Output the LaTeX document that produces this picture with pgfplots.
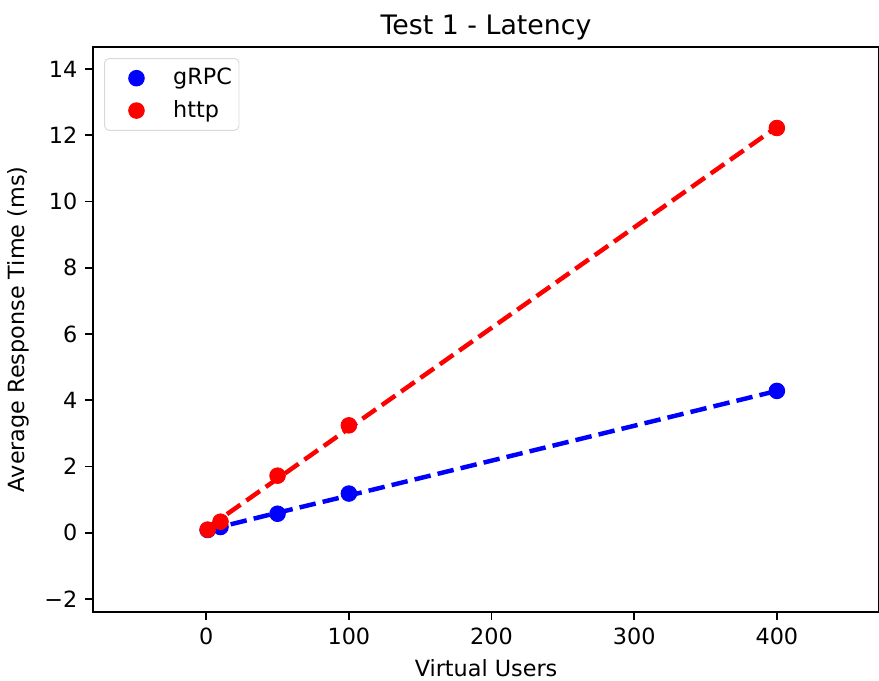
\documentclass[border=0pt]{standalone}
\usepackage{pgfplots}
\pgfplotsset{compat=1.18}
\usetikzlibrary{calc}
\usepackage{fontspec}
\setmainfont{DejaVu Sans}
\pgfplotsset{
    dotlegend/.style={legend image code/.code={%
        \path[draw=none] (0,0) -- (14.7pt,0);
        \draw[##1] plot coordinates {(8.3pt,0)};}},
}
\begin{document}
\begin{tikzpicture}
\begin{axis}[
    name=ax,
    scale only axis,
    width=352pt, height=253pt,
    xmin=-79.3, xmax=471.6,
    ymin=-2.39, ymax=14.67,
    xtick={0,100,200,300,400},
    ytick={-2,0,2,4,6,8,10,12,14},
    yticklabels={−2,0,2,4,6,8,10,12,14},
    tick align=outside,
    tick pos=left,
    major tick length=3.5pt,
    axis line style={line width=0.8pt},
    every tick/.style={line width=0.8pt, black},
    tick label style={font=\fontsize{10}{12}\selectfont},
    /pgf/number format/assume math mode=true,
    title={Test 1 - Latency},
    title style={font=\fontsize{12}{14}\selectfont, yshift=-6.5pt},
    xlabel={Virtual Users},
    ylabel={Average Response Time (ms)},
    label style={font=\fontsize{10}{12}\selectfont},
    legend style={at={(0.014,0.98)}, anchor=north west, draw=black!15,
        rounded corners=2pt, font=\fontsize{10}{12}\selectfont,
        inner xsep=6pt, inner ysep=2.3pt, row sep=1.5pt},
    legend cell align=left,
]
\addplot[only marks, mark=*, mark size=3.5pt, blue, mark options={draw=blue, fill=blue}, dotlegend]
    coordinates {(1,0.08) (10,0.17) (50,0.57) (100,1.18) (400,4.28)};
\addlegendentry{\hspace{8pt}gRPC\kern-4.8pt}
\addplot[only marks, mark=*, mark size=3.5pt, red, mark options={draw=red, fill=red}, dotlegend]
    coordinates {(1,0.09) (10,0.33) (50,1.72) (100,3.24) (400,12.22)};
\addlegendentry{\hspace{8pt}http\kern-4.8pt}
% fitted trend lines
\addplot[forget plot, blue, line width=2pt, dash pattern=on 7.4pt off 3.2pt]
    coordinates {(1,0.08) (10,0.175) (50,0.6) (100,1.12) (400,4.28)};
\addplot[forget plot, red, line width=2pt, dash pattern=on 7.4pt off 3.2pt]
    coordinates {(1,0.146) (10,0.42) (50,1.63) (100,3.15) (400,12.25)};
\end{axis}
\pgfresetboundingbox
\path ($(ax.south west)+(-41.7pt,-31pt)$) rectangle ($(ax.north east)+(0,21pt)$);
\end{tikzpicture}
\end{document}
